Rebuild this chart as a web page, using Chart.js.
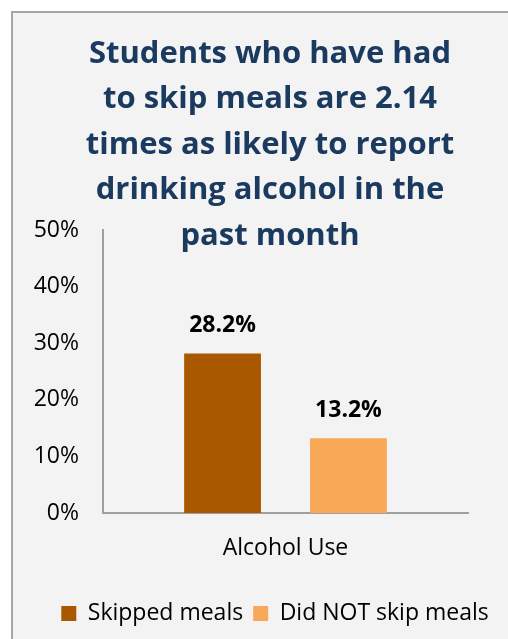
<!DOCTYPE html>
<html>
<head>
<meta charset="utf-8">
<script src="https://cdn.jsdelivr.net/npm/chart.js@4.4.1/dist/chart.umd.min.js"></script>
<style>
  html, body { margin: 0; padding: 0; background: #fff; overflow: hidden; }
  #frame {
    position: absolute; left: 11px; top: 11px; width: 600px; height: 700px;
    border: 2px solid #a6a6a6; background: #f3f3f3;
  }
  #wrap { position: absolute; left: 0; top: 0; width: 508px; height: 639px; }
</style>
</head>
<body>
<div id="frame"></div>
<div id="wrap"><canvas id="myChart"></canvas></div>
<script>
// chart data
var categories = ["Alcohol Use"];
var seriesNames = ["Skipped meals", "Did NOT skip meals"];
var skippedMeals = [28.2];
var didNotSkip = [13.2];
var titleLines = [
    "Students who have had",
    "to skip meals are 2.14",
    "times as likely to report",
    "drinking alcohol in the",
    "past month"
];

// title drawn over the plot, like the original
var titlePlugin = {
    id: 'bigTitle',
    afterDraw: function(chart) {
        var c = chart.ctx;
        c.save();
        c.font = 'bold 31px "Open Sans"';
        c.fillStyle = '#1b3a60';
        c.textAlign = 'center';
        c.textBaseline = 'middle';
        titleLines.forEach(function(line, i) {
            c.fillText(line, 270, 54 + i * 45.5);
        });
        c.restore();
    }
};

// value labels above the bars
var valuePlugin = {
    id: 'values',
    afterDatasetsDraw: function(chart) {
        var c = chart.ctx;
        c.save();
        c.font = 'bold 23px "Open Sans"';
        c.fillStyle = '#000';
        c.textAlign = 'center';
        c.textBaseline = 'middle';
        chart.data.datasets.forEach(function(ds, i) {
            chart.getDatasetMeta(i).data.forEach(function(bar, j) {
                c.fillText(ds.data[j].toFixed(1) + '%', bar.x, bar.y - 28);
            });
        });
        c.restore();
    }
};

// legend sits a bit right of centre in the original
var legendShift = {
    id: 'legendShift',
    afterLayout: function(chart) {
        if (chart.legend) {
            chart.legend.left += 41;
            chart.legend.right += 41;
        }
    }
};

var ctx = document.getElementById('myChart').getContext('2d');
var chart = new Chart(ctx, {
    type: 'bar',
    data: {
        labels: categories,
        datasets: [{
            label: seriesNames[0],
            data: skippedMeals,
            backgroundColor: '#a95800'
        },
        {
            label: seriesNames[1],
            data: didNotSkip,
            backgroundColor: '#f9a857'
        }]
    },
    options: {
        responsive: true,
        maintainAspectRatio: false,
        animation: false,
        categoryPercentage: 0.69,
        barPercentage: 0.61,
        layout: {
            padding: { left: 0, right: 40, top: 230, bottom: 4 }
        },
        plugins: {
            legend: {
                position: 'bottom',
                labels: {
                    boxWidth: 15,
                    boxHeight: 15,
                    padding: 10,
                    color: '#000',
                    font: { family: 'Open Sans', size: 23 }
                }
            },
            tooltip: { enabled: false }
        },
        scales: {
            y: {
                min: 0,
                max: 50,
                ticks: {
                    stepSize: 10,
                    padding: 24,
                    color: '#000',
                    font: { family: 'Open Sans', size: 23 },
                    callback: function(v) { return v + '%'; }
                },
                grid: { display: false, drawTicks: false },
                border: { color: '#a0a0a0', width: 2 },
                afterFit: function(s) { s.width = 103; }
            },
            x: {
                ticks: {
                    padding: 22,
                    color: '#000',
                    font: { family: 'Open Sans', size: 23 }
                },
                grid: { display: false, drawTicks: false },
                border: { color: '#a0a0a0', width: 2 },
                afterFit: function(s) { s.height = 79; }
            }
        }
    },
    plugins: [titlePlugin, valuePlugin, legendShift]
});
</script>
</body>
</html>
